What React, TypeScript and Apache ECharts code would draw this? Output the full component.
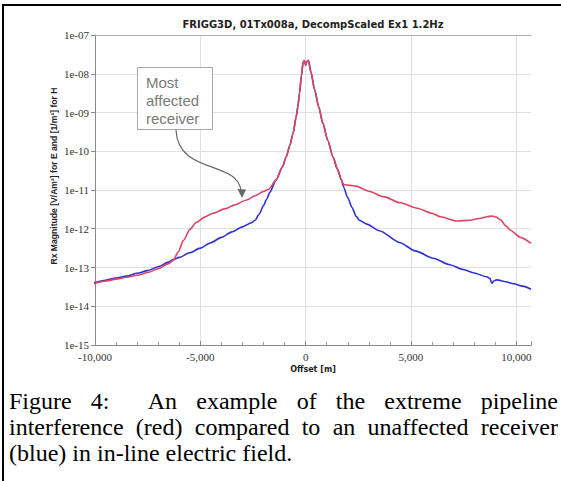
import { useEffect, useRef } from "react";
import * as echarts from "echarts";

const W = 561;
const H = 481;

const TITLE = "FRIGG3D, 01Tx008a, DecompScaled Ex1 1.2Hz";
const X_NAME = "Offset [m]";
const Y_NAME = "Rx Magnitude [V/Am²] for E and [1/m²] for H";
const X_MIN = -10000;
const X_MAX = 10700;
const X_STEP = 5000;
const Y_MIN = 1e-15;
const Y_MAX = 1e-7;

const ANNOTATION_LINES = ["Most", "affected", "receiver"];
const CAPTION_LINE_1 = ["Figure", "4:", "An", "example", "of", "the", "extreme", "pipeline"];
const CAPTION_GAPS_1 = [1, 2, 1, 1, 1, 1, 1];
const CAPTION_LINE_2 = ["interference", "(red)", "compared", "to", "an", "unaffected", "receiver"];
const CAPTION_LINE_3 = "(blue) in in-line electric field.";

// Unaffected receiver (blue)
const blueOffsets = [
  -10050, -9500, -9000, -8500, -8000, -7500, -7000, -6500, -6300, -6000, -5500, -5000,
  -4500, -4000, -3500, -3000, -2600, -2400, -2200, -2000, -1850, -1700,
  -1400, -1100, -920, -750, -600, -450, -370, -290, -200, -120, -60, 0, 60, 130, 250,
  430, 620, 820, 1050, 1300, 1500, 1700,
  1800, 2000, 2200, 2400, 2550, 2900, 3500, 4480, 5200, 6060, 6800, 7490, 8000, 8600,
  8750, 8840, 8950, 9080, 9500, 9870, 10300, 10700,
];
const blueValues = [
  4.0e-14, 4.7e-14, 5.37e-14, 6.0e-14, 7.1e-14, 8.3e-14, 1.05e-13, 1.38e-13, 1.58e-13, 1.82e-13, 2.4e-13, 3.16e-13,
  4.37e-13, 6.0e-13, 8.3e-13, 1.12e-12, 1.41e-12, 1.66e-12, 2.4e-12, 3.98e-12, 5.75e-12, 8.7e-12,
  1.82e-11, 3.98e-11, 7.24e-11, 1.41e-10, 2.88e-10, 7.59e-10, 1.41e-9, 3.16e-9, 8.9e-9, 2.0e-8, 2.19e-8, 1.66e-8, 2.09e-8, 2.24e-8, 1.12e-8,
  3.8e-9, 1.41e-9, 5.25e-10, 1.9e-10, 7.24e-11, 3.55e-11, 1.82e-11,
  1.2e-11, 6.3e-12, 3.55e-12, 2.09e-12, 1.66e-12, 1.32e-12, 8.9e-13, 4.37e-13, 2.69e-13, 1.74e-13, 1.2e-13, 8.9e-14, 7.24e-14, 5.75e-14,
  5.25e-14, 3.9e-14, 4.57e-14, 4.79e-14, 4.27e-14, 3.8e-14, 3.31e-14, 2.75e-14,
];

// Most affected receiver (red)
const redOffsets = [
  -10050, -9500, -9000, -8500, -8000, -7500, -7000, -6500, -6300, -6050, -5800, -5500,
  -5200, -4800, -4400, -3800, -3400, -2800, -2400, -2000, -1750,
  -1400, -1100, -920, -750, -600, -450, -370, -290, -200, -120, -60, 0, 60, 130, 250,
  430, 620, 820, 1050, 1300, 1500, 1700,
  1800, 2100, 2400, 3000, 3700, 4500, 5300, 6000, 6400, 7200, 7800, 8300, 8600, 8850,
  9050, 9250, 9500, 9700, 10200, 10700,
];
const redValues = [
  3.8e-14, 4.47e-14, 5.0e-14, 5.6e-14, 6.3e-14, 7.4e-14, 9.3e-14, 1.26e-13, 1.51e-13, 2.5e-13, 5.0e-13, 9.5e-13,
  1.45e-12, 2.0e-12, 2.51e-12, 3.31e-12, 4.07e-12, 5.5e-12, 7.08e-12, 9.12e-12, 1.05e-11,
  1.82e-11, 3.98e-11, 7.24e-11, 1.41e-10, 2.88e-10, 7.59e-10, 1.41e-9, 3.16e-9, 8.9e-9, 2.0e-8, 2.19e-8, 1.66e-8, 2.09e-8, 2.24e-8, 1.12e-8,
  3.8e-9, 1.41e-9, 5.25e-10, 1.9e-10, 7.24e-11, 3.55e-11, 1.82e-11,
  1.38e-11, 1.32e-11, 1.26e-11, 9.3e-12, 6.76e-12, 4.68e-12, 3.39e-12, 2.51e-12, 2.04e-12, 1.58e-12, 1.66e-12, 1.86e-12, 2.04e-12, 2.14e-12,
  2.0e-12, 1.7e-12, 1.2e-12, 9.3e-13, 6.0e-13, 4.17e-13,
];

const BLUE = "#2f2fd8";
const RED = "#dc4460";

const CAP_FONT_SIZE = 24;
const CAP_FONT = `${CAP_FONT_SIZE}px "Liberation Serif"`;
const CAP_LEFT = 9;
const CAP_RIGHT = 558;
const CAP_Y = [401, 427, 453];

function justifyWords(words: string[], gaps: number[], y: number, ctx: CanvasRenderingContext2D) {
  const widths = words.map((w) => ctx.measureText(w).width);
  const total = widths.reduce((a, b) => a + b, 0);
  const wsum = gaps.reduce((a, b) => a + b, 0);
  const unit = (CAP_RIGHT - CAP_LEFT - total) / wsum;
  const out: any[] = [];
  let x = CAP_LEFT;
  words.forEach((w, i) => {
    out.push({
      type: "text",
      x,
      y,
      style: { text: w, font: CAP_FONT, fill: "#000", align: "left", textAlign: "left", verticalAlign: "middle", textVerticalAlign: "middle" },
    });
    x += widths[i] + (i < gaps.length ? gaps[i] * unit : 0);
  });
  return out;
}

export default function App() {
  const ref = useRef<HTMLDivElement>(null);
  useEffect(() => {
    if (!ref.current) return;
    const chart = echarts.init(ref.current, undefined, { renderer: "svg", width: W, height: H });

    const canvas = document.createElement("canvas");
    const ctx = canvas.getContext("2d") as CanvasRenderingContext2D;
    ctx.font = CAP_FONT;

    const minorGrid: any[] = [];
    for (let e = -15; e < -7; e++) {
      for (let k = 2; k <= 9; k++) minorGrid.push({ yAxis: k * Math.pow(10, e) });
    }

    const textStyle = (extra: any) => ({ align: "left", textAlign: "left", verticalAlign: "middle", textVerticalAlign: "middle", ...extra });

    const graphic: any[] = [
      { type: "line", shape: { x1: 3, y1: 5, x2: W, y2: 5 }, style: { stroke: "#000", lineWidth: 2 } },
      { type: "line", shape: { x1: 3, y1: 4, x2: 3, y2: H }, style: { stroke: "#000", lineWidth: 2 } },
      {
        type: "text", x: 313, y: 24,
        style: textStyle({ text: TITLE, font: 'bold 10px "DejaVu Sans"', fill: "#222", align: "center", textAlign: "center" }),
      },
      {
        type: "text", x: 54, y: 176, rotation: Math.PI / 2,
        style: textStyle({ text: Y_NAME, font: 'bold 8.6px "Liberation Sans"', fill: "#222", align: "center", textAlign: "center" }),
      },
      {
        type: "text", x: 313, y: 369,
        style: textStyle({ text: X_NAME, font: 'bold 8px "DejaVu Sans"', fill: "#222", align: "center", textAlign: "center" }),
      },
      { type: "rect", shape: { x: 137.5, y: 67.5, width: 75, height: 62 }, style: { fill: "#fff", stroke: "#a8a8a8", lineWidth: 1 }, z: 10 },
      ...ANNOTATION_LINES.map((t, i) => ({
        type: "text", x: 146, y: 82 + i * 18, z: 11,
        style: textStyle({ text: t, font: '15px "Liberation Sans"', fill: "#7a7a7a" }),
      })),
      {
        type: "bezierCurve", z: 10,
        shape: { x1: 176, y1: 130, cpx1: 178, cpy1: 175, cpx2: 238, cpy2: 160, x2: 241, y2: 191 },
        style: { stroke: "#666", lineWidth: 1.2, fill: null },
      },
      { type: "polygon", z: 10, shape: { points: [[242, 198], [237.5, 189], [246, 189.5]] }, style: { fill: "#666" } },
      ...justifyWords(CAPTION_LINE_1, CAPTION_GAPS_1, CAP_Y[0], ctx),
      ...justifyWords(CAPTION_LINE_2, CAPTION_LINE_2.slice(1).map(() => 1), CAP_Y[1], ctx),
      {
        type: "text", x: CAP_LEFT, y: CAP_Y[2],
        style: textStyle({ text: CAPTION_LINE_3, font: CAP_FONT, fill: "#000" }),
      },
    ];

    const labelStyle = { fontFamily: '"Liberation Serif"', fontSize: 11, color: "#333" };

    chart.setOption({
      animation: false,
      backgroundColor: "#fff",
      grid: { left: 95, right: 30, top: 35, bottom: 136, containLabel: false },
      xAxis: [
        {
          type: "value",
          min: X_MIN,
          max: X_MAX,
          interval: X_STEP,
          axisLine: { show: true, onZero: false, lineStyle: { color: "#8a8a8a" } },
          axisTick: { show: true, inside: true, length: 4, lineStyle: { color: "#8a8a8a" } },
          minorTick: { show: true, splitNumber: 5, length: 3, lineStyle: { color: "#9a9a9a" } },
          axisLabel: {
            ...labelStyle,
            margin: 6,
            showMaxLabel: false,
            formatter: (v: number) => v.toLocaleString("en-US"),
          },
          splitLine: { show: true, showMaxLine: false, lineStyle: { color: "#e0e0e0" } },
        },
        {
          type: "value",
          position: "top",
          min: X_MIN,
          max: X_MAX,
          interval: X_STEP,
          axisLine: { show: true, onZero: false, lineStyle: { color: "#b0b0b0" } },
          axisTick: { show: false },
          axisLabel: { show: false },
          splitLine: { show: false },
        },
      ],
      yAxis: {
        type: "log",
        logBase: 10,
        min: Y_MIN,
        max: Y_MAX,
        splitNumber: 8,
        axisLine: { show: true, onZero: false, lineStyle: { color: "#8a8a8a" } },
        axisTick: { show: true, inside: false, length: 4, lineStyle: { color: "#8a8a8a" } },
        axisLabel: {
          ...labelStyle,
          margin: 6,
          formatter: (v: number) => {
            const e = Math.round(Math.log10(v));
            return "1e-" + String(-e).padStart(2, "0");
          },
        },
        splitLine: { show: true, lineStyle: { color: "#e0e0e0" } },
      },
      graphic,
      series: [
        {
          type: "line",
          data: [],
          silent: true,
          z: 1,
          markLine: {
            silent: true,
            symbol: ["none", "none"],
            label: { show: false },
            lineStyle: { color: "#ececec", type: "solid", width: 1 },
            data: minorGrid,
            animation: false,
          },
        },
        {
          name: "unaffected",
          type: "line",
          z: 3,
          showSymbol: false,
          smooth: 0.25,
          smoothMonotone: "x",
          data: blueOffsets.map((x, i) => [x, blueValues[i]]),
          lineStyle: { color: BLUE, width: 1.6 },
          itemStyle: { color: BLUE },
        },
        {
          name: "affected",
          type: "line",
          z: 4,
          showSymbol: false,
          smooth: 0.25,
          smoothMonotone: "x",
          data: redOffsets.map((x, i) => [x, redValues[i]]),
          lineStyle: { color: RED, width: 1.6 },
          itemStyle: { color: RED },
        },
      ],
    });
    return () => chart.dispose();
  }, []);

  return (
    <div style={{ position: "fixed", left: 0, top: 0, width: W, height: H, background: "#fff" }}>
      <div ref={ref} style={{ width: W, height: H }} />
    </div>
  );
}
